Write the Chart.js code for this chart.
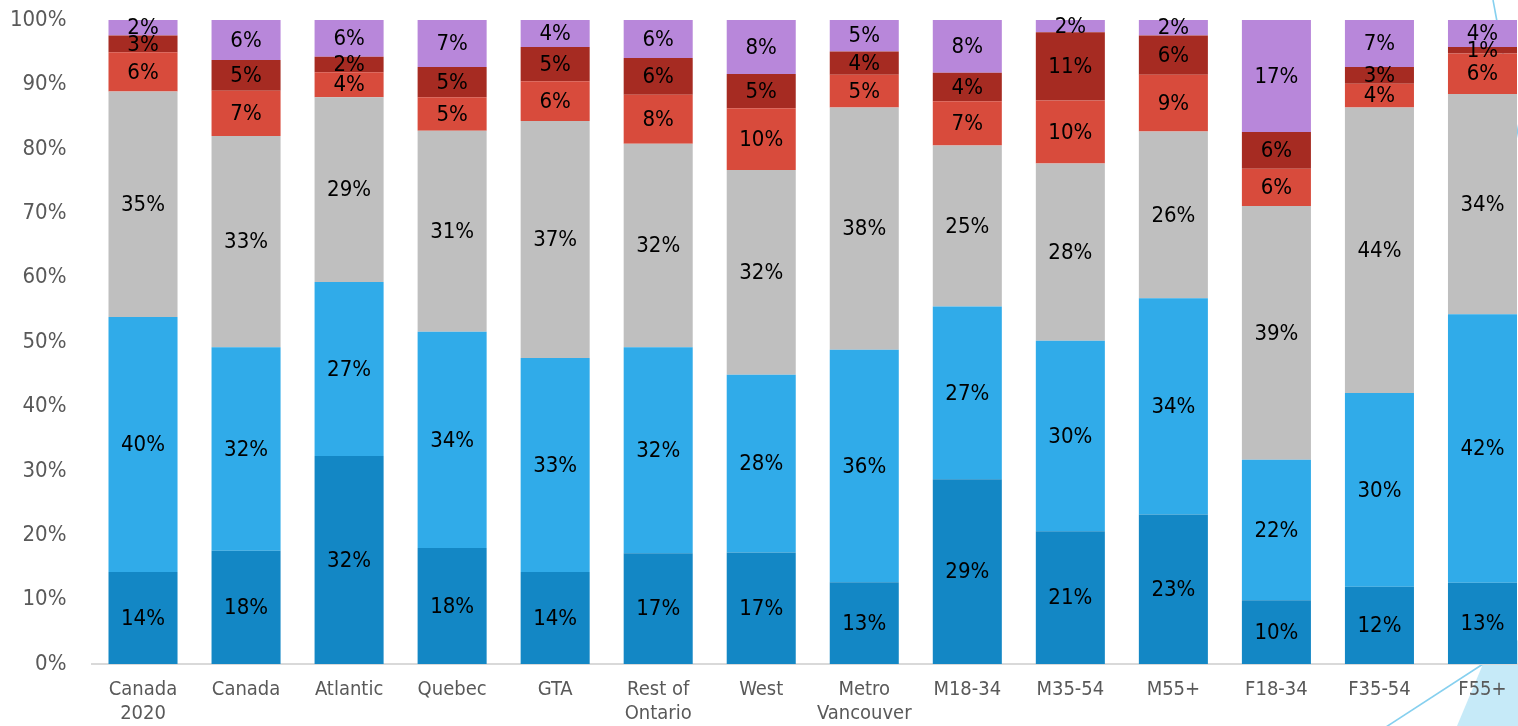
<!DOCTYPE html>
<html lang="en">
<head>
<meta charset="utf-8">
<title>Stacked share by region and demo</title>
<script src="https://cdn.jsdelivr.net/npm/chart.js@4.4.1/dist/chart.umd.min.js"></script>
<style>
    html, body {
        margin: 0;
        padding: 0;
        background: #ffffff;
        overflow: hidden;
        width: 1518px;
        height: 726px;
    }
    #deco {
        position: absolute;
        left: 0;
        top: 0;
    }
    .chart-wrap {
        position: absolute;
        left: 0;
        top: 0;
        width: 1534px;
        height: 726px;
    }
</style>
</head>
<body>
<!-- garis & bidang dekorasi di pojok kanan, di belakang grafik -->
<svg id="deco" width="1518" height="726">
    <polygon points="1457,726 1483,664 1518,640 1518,726" fill="#c6eaf8"/>
    <line x1="1386" y1="727" x2="1500" y2="653" stroke="#86d0ef" stroke-width="1.6"/>
    <line x1="1493" y1="0" x2="1521" y2="150" stroke="#86d0ef" stroke-width="1.6"/>
</svg>
<div class="chart-wrap">
    <canvas id="shareChart"></canvas>
</div>

<script>
// Kategori sumbu X
const categories = [
    ['Canada', '2020'], 'Canada', 'Atlantic', 'Quebec', 'GTA', ['Rest of', 'Ontario'],
    'West', ['Metro', 'Vancouver'], 'M18-34', 'M35-54', 'M55+', 'F18-34', 'F35-54', 'F55+'
];

// Nilai tiap seri (persen), dari bawah ke atas
const seriesDarkBlue  = [14.3, 17.6, 32.3, 18.0, 14.3, 17.2, 17.3, 12.7, 28.7, 20.6, 23.2,  9.9, 12.0, 12.6];
const seriesLightBlue = [39.6, 31.6, 27.0, 33.6, 33.2, 32.0, 27.6, 36.1, 26.8, 29.6, 33.6, 21.8, 30.1, 41.7];
const seriesGray      = [35.0, 32.8, 28.7, 31.2, 36.8, 31.6, 31.8, 37.6, 25.0, 27.5, 25.9, 39.4, 44.3, 34.2];
const seriesRed       = [ 6.1,  7.0,  3.9,  5.2,  6.2,  7.6,  9.6,  5.1,  6.9,  9.8,  8.8,  5.8,  3.7,  6.3];
const seriesDarkRed   = [ 2.6,  4.8,  2.4,  4.7,  5.3,  5.7,  5.3,  3.6,  4.4, 10.6,  6.1,  5.7,  2.6,  1.0];
const seriesPurple    = [ 2.4,  6.2,  5.7,  7.3,  4.2,  5.9,  8.4,  4.9,  8.2,  1.9,  2.4, 17.4,  7.3,  4.2];

// Label sumbu Y
const yTicks = [0, 10, 20, 30, 40, 50, 60, 70, 80, 90, 100];

const FONT_FAMILY = '"DejaVu Sans Condensed", "DejaVu Sans", sans-serif';

document.addEventListener('DOMContentLoaded', () => {
    initializeShareChart();
});

/**
 * Plugin kecil untuk menulis persentase di tengah tiap segmen batang.
 */
const segmentLabels = {
    id: 'segmentLabels',
    afterDatasetsDraw(chart) {
        const ctx = chart.ctx;
        ctx.save();
        ctx.font = '22px ' + FONT_FAMILY;
        ctx.fillStyle = '#000000';
        ctx.textAlign = 'center';
        ctx.textBaseline = 'middle';
        chart.data.datasets.forEach((ds, i) => {
            const meta = chart.getDatasetMeta(i);
            meta.data.forEach((bar, j) => {
                const value = ds.data[j];
                const midY = (bar.y + bar.base) / 2;
                ctx.fillText(Math.round(value) + '%', bar.x, midY + 1);
            });
        });
        ctx.restore();
    }
};

/**
 * Grafik batang bertumpuk 100%.
 */
function initializeShareChart() {
    const canvas = document.getElementById('shareChart');
    if (!canvas) return;

    const makeSet = (data, color) => ({
        data: data,
        backgroundColor: color,
        borderWidth: 0,
        categoryPercentage: 1.0,
        barPercentage: 0.67
    });

    new Chart(canvas.getContext('2d'), {
        type: 'bar',
        data: {
            labels: categories,
            datasets: [
                makeSet(seriesDarkBlue, '#1387c5'),
                makeSet(seriesLightBlue, '#30abe9'),
                makeSet(seriesGray, '#bfbfbf'),
                makeSet(seriesRed, '#d84b3c'),
                makeSet(seriesDarkRed, '#a62b22'),
                makeSet(seriesPurple, '#b887da')
            ]
        },
        options: {
            responsive: true,
            maintainAspectRatio: false,
            animation: false,
            layout: {
                padding: { top: 20, right: 0, bottom: 0, left: 0 }
            },
            plugins: {
                legend: { display: false },
                tooltip: { enabled: false }
            },
            scales: {
                x: {
                    stacked: true,
                    grid: { display: false, drawTicks: false },
                    border: { display: true, color: '#d9d9d9', width: 2 },
                    ticks: {
                        color: '#595959',
                        padding: 14,
                        maxRotation: 0,
                        autoSkip: false,
                        font: { family: FONT_FAMILY, size: 20, lineHeight: 1.2 }
                    },
                    afterFit(scale) {
                        scale.height = 62;
                    }
                },
                y: {
                    stacked: true,
                    min: 0,
                    max: 100,
                    grid: { display: false, drawTicks: false },
                    border: { display: false },
                    afterBuildTicks(scale) {
                        scale.ticks = yTicks.map(v => ({ value: v }));
                    },
                    ticks: {
                        color: '#595959',
                        padding: 25,
                        font: { family: FONT_FAMILY, size: 22 },
                        callback: (v) => v + '%'
                    },
                    afterFit(scale) {
                        // lebar kolom label tetap; padding atas tidak ikut tick padding
                        scale.width = 91.5;
                        scale.paddingTop = 0;
                        scale.paddingBottom = 0;
                    }
                }
            }
        },
        plugins: [segmentLabels]
    });
}
</script>
</body>
</html>
